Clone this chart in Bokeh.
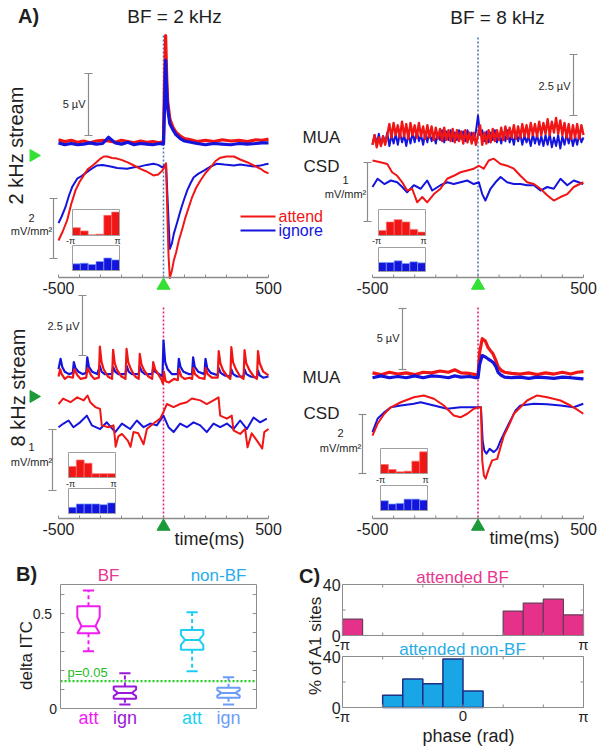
import math
from bokeh.plotting import figure
from bokeh.models import Range1d
from bokeh.embed import file_html
from bokeh.resources import INLINE
from bokeh.core.properties import value

PI = math.pi

# ======================= DATA =======================
# ---- Panel A: time axis (ms) ----
TIME_TICKS = [-500, -400, -300, -200, -100, 0, 100, 200, 300, 400, 500]
TIME_TICK_LABELS = ["-500", "500"]

# ---- A, BF = 2 kHz / 2 kHz stream (top-left) ----
TL_MUA_T = [-500, -470, -440, -410, -380, -350, -320, -290, -262, -230, -200, -170, -140, -110, -80, -50, -20, 0, 5, 10,
            15, 20, 30, 45, 60, 80, 100, 130, 160, 200, 240, 280, 320, 360, 400, 440, 470, 500]
TL_MUA_ATT = [0.3, 0.15, 0.25, 0.1, 0.2, 0.05, 0.2, 0.25, 0.2, 0.1, 0.25, 0.15, 0.05, 0.2, 0.1, 0.15, 0.05, 0.15, 5.0, 8.7,
              5.5, 3.4, 2.0, 1.3, 0.9, 0.6, 0.4, 0.3, 0.15, 0.25, 0.15, 0.3, 0.2, 0.25, 0.15, 0.3, 0.25, 0.35]
TL_MUA_IGN = [0.05, -0.1, 0.0, -0.1, -0.05, 0.05, -0.05, 0.0, 0.5, 0.05, -0.05, 0.1, -0.1, 0.0, -0.05, -0.1, 0.0, -0.05, 3.0, 6.7,
              4.3, 2.8, 1.6, 1.1, 0.7, 0.4, 0.2, 0.1, 0.0, -0.1, 0.0, -0.05, -0.1, 0.0, -0.05, 0.0, 0.05, 0.05]
TL_CSD_T_ATT = [-500, -480, -459, -440, -419, -400, -380, -360, -337, -318, -300, -284, -268, -245, -221, -197, -173, -140, -110, -80,
                -48, -25, -6, 5, 12, 18, 24, 30, 40, 49, 60, 73, 90, 105, 120, 136, 155, 176, 200, 224,
                248, 271, 300, 335, 365, 398, 430, 462, 480, 500]
TL_CSD_ATT = [-2.5, -2.2, -1.83, -1.3, -0.83, -0.55, -0.33, -0.12, 0.0, 0.12, 0.23, 0.3, 0.3, 0.25, 0.23, 0.18, 0.11, 0.0, -0.11, -0.2,
              -0.33, -0.3, -0.17, -0.05, 0.07, -1.5, -3.0, -3.75, -3.5, -3.17, -2.9, -2.5, -2.1, -1.72, -1.4, -1.06, -0.75, -0.5, -0.25, -0.06,
              0.15, 0.26, 0.3, 0.3, 0.2, 0.11, 0.0, -0.11, -0.2, -0.26]
TL_CSD_T_IGN = [-500, -485, -467, -450, -435, -411, -390, -365, -340, -317, -290, -252, -220, -173, -140, -110, -80, -48, -25, -6,
                5, 12, 20, 30, 40, 49, 65, 81, 97, 113, 128, 144, 165, 192, 220, 255, 290, 335, 365, 398, 430, 462, 480, 500]
TL_CSD_IGN = [-1.92, -1.7, -1.39, -1.0, -0.72, -0.44, -0.35, -0.22, -0.1, 0.0, 0.02, -0.03, -0.08, -0.11, -0.06, -0.03, 0.02, 0.06, 0.02, -0.06,
              0.0, 0.06, -1.2, -2.78, -2.6, -2.28, -1.9, -1.5, -1.15, -0.83, -0.6, -0.39, -0.28, -0.17, -0.05, 0.06, 0.03, 0.0, 0.03, 0.0,
              -0.03, 0.0, 0.03, 0.06]
TL_HIST_ATT = [12.0, 7.0, 1.0, 2.0, 31.0, 36.0]
TL_HIST_IGN = [10.7, 11.7, 9.6, 14.4, 20.0, 17.0]

# ---- A, BF = 8 kHz / 2 kHz stream (top-right) ----
TR_MUA_T = list(range(-500, 501, 10))
TR_MUA_ATT = [-0.3, 0.1, -0.4, 0.0, -0.35, 0.05, -0.3, 0.1, 0.55, 0.0,
              0.6, 0.1, 0.5, 0.0, 0.65, 0.05, 0.55, -0.05, 0.6, 0.1,
              0.5, 0.0, 0.6, 0.05, 0.45, -0.05, 0.5, 0.0, 0.45, -0.1,
              0.4, -0.05, 0.35, -0.15, 0.4, -0.1, 0.3, -0.15, 0.35, -0.2,
              0.3, -0.15, 0.25, -0.25, 0.3, -0.2, 0.2, -0.25, 0.2, -0.3,
              0.1, 0.5, -0.3, 0.2, -0.25, 0.3, -0.2, 0.35, -0.15, 0.3,
              -0.1, 0.4, -0.1, 0.45, -0.05, 0.4, 0.0, 0.5, -0.05, 0.45,
              0.0, 0.55, 0.05, 0.5, 0.0, 0.6, 0.1, 0.55, 0.05, 0.65,
              0.1, 0.6, 0.15, 0.75, 0.1, 0.65, 0.2, 0.8, 0.15, 0.7,
              0.1, 0.6, 0.0, 0.55, -0.05, 0.5, 0.0, 0.55, -0.05, 0.5,
              0.1]
TR_MUA_IGN = [-0.3, 0.1, -0.25, 0.15, -0.3, 0.05, -0.2, 0.2, -0.35, 0.1,
              -0.25, 0.15, -0.3, 0.2, -0.2, 0.1, -0.35, 0.15, -0.25, 0.2,
              -0.2, 0.25, -0.15, 0.1, -0.3, 0.2, -0.2, 0.25, -0.15, 0.1,
              -0.25, 0.2, -0.1, 0.3, -0.2, 0.25, -0.1, 0.3, -0.15, 0.2,
              -0.1, 0.3, -0.05, 0.25, -0.15, 0.3, -0.05, 0.2, -0.1, 0.25,
              0.9, 0.1, 0.3, -0.15, 0.25, -0.2, 0.2, -0.1, 0.3, -0.2,
              0.15, -0.25, 0.2, -0.15, 0.3, -0.2, 0.1, -0.3, 0.2, -0.15,
              0.15, -0.3, 0.1, -0.2, 0.05, -0.35, 0.15, -0.25, 0.1, -0.3,
              0.05, -0.35, 0.1, -0.3, 0.15, -0.4, 0.0, -0.35, 0.1, -0.45,
              0.05, -0.3, 0.15, -0.25, 0.1, -0.35, 0.05, -0.3, 0.15, -0.2,
              0.0]
TR_CSD_T_ATT = [-500, -462, -430, -407, -383, -359, -336, -312, -288, -264, -241, -209, -178, -146, -115, -83, -51, -20, 4, 27,
                51, 75, 107, 138, 170, 201, 233, 265, 296, 328, 359, 391, 423, 454, 499]
TR_CSD_ATT = [0.34, 0.31, 0.28, 0.14, 0.08, -0.03, -0.17, -0.14, -0.37, -0.28, -0.37, -0.23, -0.14, 0.03, 0.08, 0.14, 0.17, 0.2, 0.25, 0.2,
              0.34, 0.37, 0.28, 0.25, 0.2, 0.08, -0.03, -0.06, -0.14, -0.25, -0.34, -0.28, -0.23, -0.11, -0.03]
TR_CSD_T_IGN = [-500, -476, -444, -413, -383, -359, -336, -304, -272, -241, -217, -178, -146, -115, -83, -51, -20, 4, 20, 35,
                59, 83, 107, 138, 170, 201, 233, 265, 296, 328, 359, 391, 423, 454, 499]
TR_CSD_IGN = [-0.11, 0.03, -0.06, 0.0, -0.03, -0.11, -0.2, -0.08, -0.14, 0.0, -0.17, -0.08, -0.03, -0.06, -0.03, 0.0, -0.06, -0.03, -0.23, -0.34,
              -0.14, -0.03, 0.06, -0.03, -0.06, -0.06, -0.08, -0.08, -0.17, -0.11, -0.14, 0.03, -0.08, 0.0, -0.06]
TR_HIST_ATT = [7.8, 20.8, 24.4, 20.8, 9.4, 5.2]
TR_HIST_IGN = [15.0, 15.0, 17.8, 13.3, 16.1, 14.4]

# ---- A, BF = 2 kHz / 8 kHz stream (bottom-left) ----
BL_MUA_T_ATT = [-500, -492, -485, -470, -455, -432, -425, -410, -395, -368, -362, -345, -330, -308, -303, -295, -285, -265, -245, -240,
                -232, -220, -200, -181, -176, -168, -155, -135, -118, -113, -105, -92, -72, -54, -49, -40, -25, -8, -3, 2,
                10, 25, 50, 68, 74, 85, 100, 125, 136, 142, 150, 170, 195, 201, 210, 230, 258, 263, 271, 284,
                305, 318, 323, 331, 345, 365, 381, 386, 394, 410, 430, 445, 450, 458, 475, 500]
BL_MUA_ATT = [0.0, 0.3, 0.1, -0.1, 0.0, -0.05, 0.3, 0.05, -0.1, -0.05, 0.35, 0.05, -0.1, -0.05, 1.25, 0.6, 0.3, 0.0, -0.1, 1.11,
              0.55, 0.25, 0.0, -0.1, 1.15, 0.6, 0.3, 0.0, -0.1, 0.94, 0.5, 0.25, 0.0, -0.1, 0.6, 0.3, 0.1, -0.15, -0.3, 0.2,
              -0.2, -0.25, -0.1, -0.15, 0.3, 0.0, -0.1, -0.05, -0.1, 0.35, 0.1, -0.05, -0.1, 0.35, 0.1, -0.05, -0.05, 1.06, 0.55, 0.25,
              0.0, -0.1, 1.22, 0.6, 0.3, 0.0, -0.1, 1.1, 0.55, 0.25, 0.0, -0.1, 1.06, 0.55, 0.2, 0.05]
BL_MUA_T_IGN = [-500, -490, -482, -470, -450, -432, -427, -419, -405, -385, -368, -363, -355, -340, -315, -303, -295, -280, -245, -240,
                -230, -215, -181, -176, -166, -150, -118, -113, -103, -88, -54, -49, -40, -20, -5, 0, 8, 20, 40, 68,
                73, 81, 95, 120, 136, 141, 149, 165, 195, 200, 208, 225, 258, 263, 272, 290, 318, 323, 332, 350,
                381, 386, 395, 415, 445, 450, 458, 475, 500]
BL_MUA_IGN = [0.3, 0.74, 0.4, 0.2, 0.1, 0.15, 0.6, 0.35, 0.2, 0.1, 0.15, 0.8, 0.4, 0.2, 0.1, 0.45, 0.2, 0.1, 0.1, 0.4,
              0.2, 0.1, 0.1, 0.45, 0.2, 0.1, 0.1, 0.4, 0.2, 0.1, 0.1, 0.35, 0.2, 0.1, 0.0, 1.5, 0.6, 0.3, 0.1, 0.1,
              0.74, 0.4, 0.2, 0.1, 0.1, 0.8, 0.4, 0.2, 0.1, 0.74, 0.35, 0.15, 0.05, 0.35, 0.15, 0.05, 0.0, 0.3, 0.1, 0.0,
              0.0, 0.3, 0.1, 0.0, -0.05, 0.25, 0.05, -0.05, 0.0]
BL_CSD_T_ATT = [-500, -478, -443, -411, -380, -362, -349, -325, -302, -294, -262, -238, -230, -228, -215, -198, -170, -157, -143, -120,
                -95, -79, -48, -16, 0, 16, 48, 79, 111, 135, 175, 206, 238, 262, 270, 302, 325, 333, 365, 389,
                400, 420, 445, 470, 480, 500]
BL_CSD_ATT = [0.27, 0.36, 0.3, 0.38, 0.33, 0.41, 0.3, 0.22, 0.19, -0.08, -0.11, -0.08, -0.33, -0.43, -0.26, -0.22, -0.33, -0.43, -0.19, -0.21,
              -0.39, -0.14, -0.05, 0.03, 0.14, 0.27, 0.22, 0.27, 0.3, 0.36, 0.33, 0.27, 0.33, 0.38, 0.08, 0.03, 0.08, -0.16, -0.22, -0.14,
              -0.44, -0.21, -0.33, -0.46, -0.19, -0.14]
BL_CSD_T_IGN = [-500, -476, -452, -429, -397, -365, -341, -302, -270, -230, -198, -159, -127, -95, -63, -32, 0, 24, 48, 79,
                111, 143, 175, 206, 238, 270, 302, 333, 365, 397, 429, 460, 492]
BL_CSD_IGN = [-0.11, -0.05, 0.0, -0.11, -0.03, 0.08, -0.08, -0.14, -0.03, -0.19, -0.05, -0.14, 0.0, -0.11, -0.05, -0.08, 0.08, -0.11, -0.19, -0.05,
              -0.11, -0.03, -0.08, -0.19, -0.05, -0.11, -0.05, -0.14, 0.0, -0.14, 0.05, -0.03, 0.03]
BL_HIST_ATT = [17.7, 28.0, 22.9, 6.2, 6.2, 6.2]
BL_HIST_IGN = [9.9, 15.3, 15.3, 15.3, 14.2, 17.0]

# ---- A, BF = 8 kHz / 8 kHz stream (bottom-right) ----
BR_MUA_T = [-500, -460, -420, -380, -340, -300, -260, -220, -180, -140, -110, -80, -40, -10, 0, 8, 20, 35, 47, 60,
            71, 85, 95, 110, 126, 160, 200, 240, 280, 320, 360, 400, 440, 470, 500]
BR_MUA_ATT = [0.3, 0.15, 0.35, 0.2, 0.3, 0.15, 0.35, 0.3, 0.45, 0.35, 0.55, 0.3, 0.25, 0.15, 0.1, 2.0, 3.1, 2.9, 2.4, 2.1,
              1.86, 1.3, 0.8, 0.5, 0.35, 0.25, 0.2, 0.3, 0.15, 0.3, 0.2, 0.35, 0.2, 0.35, 0.4]
BR_MUA_IGN = [-0.1, 0.05, -0.1, 0.0, -0.1, 0.05, -0.1, 0.05, 0.0, -0.1, 0.05, -0.05, 0.0, -0.1, -0.1, 1.0, 1.72, 1.6, 1.45, 1.3,
              1.17, 0.8, 0.35, 0.1, -0.05, -0.1, -0.05, -0.15, -0.05, -0.1, -0.15, -0.05, -0.1, -0.15, -0.2]
BR_CSD_T_ATT = [-500, -476, -444, -413, -366, -304, -257, -209, -162, -115, -83, -51, -20, 8, 14, 20, 28, 36, 51, 67,
                91, 107, 123, 146, 170, 201, 233, 280, 328, 391, 438, 470, 499]
BR_CSD_ATT = [-1.02, -0.62, -0.28, -0.06, 0.11, 0.28, 0.34, 0.23, 0.0, -0.34, -0.4, -0.28, -0.11, -0.06, -0.06, -1.86, -2.37, -2.48, -2.15, -1.86,
              -1.81, -1.41, -1.02, -0.68, -0.28, -0.06, 0.17, 0.34, 0.28, 0.17, 0.0, -0.14, -0.28]
BR_CSD_T_IGN = [-500, -476, -444, -413, -366, -304, -272, -209, -146, -83, -20, 8, 14, 22, 30, 40, 55, 75, 91, 107,
                123, 146, 178, 201, 265, 328, 391, 454, 499]
BR_CSD_IGN = [-0.9, -0.45, -0.23, -0.06, 0.0, 0.06, 0.11, 0.0, -0.11, -0.06, -0.06, -0.06, -0.06, -1.19, -1.53, -1.63, -1.47, -1.58, -1.47, -1.19,
              -0.96, -0.62, -0.17, 0.0, 0.06, 0.04, 0.0, -0.06, 0.06]
BR_HIST_ATT = [14.4, 6.4, 2.7, 3.7, 19.7, 34.7]
BR_HIST_IGN = [15.6, 10.4, 11.4, 18.2, 18.2, 16.6]

# ---- Panel B: delta ITC box plots ----
B_LABELS = ["att", "ign", "att", "ign"]
B_POS = [1.0, 2.3, 4.7, 6.0]
B_WHISK_HI = [0.621, 0.186, 0.507, 0.165]
B_Q3 = [0.539, 0.116, 0.414, 0.109]
B_NOTCH_HI = [0.481, 0.100, 0.388, 0.097]
B_MEDIAN = [0.433, 0.082, 0.361, 0.082]
B_NOTCH_LO = [0.396, 0.065, 0.335, 0.068]
B_Q1 = [0.396, 0.051, 0.309, 0.056]
B_WHISK_LO = [0.302, 0.021, 0.196, 0.021]
B_P005 = 0.144
B_YTICKS = [0.0, 0.5]
B_YTICK_LABELS = ["0", "0.5"]

# ---- Panel C: phase histograms (% of A1 sites), 12 bins from -pi to pi ----
C_ATT_BF = [12.8, 0, 0, 0, 0, 0, 0, 0, 19.1, 25.4, 28.5, 16.2]
C_ATT_NONBF = [0, 0, 9.7, 22.3, 18.7, 38.0, 13.0, 0, 0, 0, 0, 0]
C_YTICKS = [0, 40]

# ======================= STYLE =======================
FONT = value("Liberation Sans")
RED = "#f01616"
BLUE = "#1414dc"
GRAY = "#8c8c8c"
INK = "#1e1e1e"
STIM_BLUE = "#5078bd"
STIM_PINK = "#e8207c"
LIGHT_GREEN = "#33e033"
DARK_GREEN = "#1c9a3a"

p = figure(width=602, height=750, x_range=Range1d(0, 602), y_range=Range1d(750, 0),
           x_axis_location=None, y_axis_location=None, toolbar_location=None,
           output_backend="svg", min_border=0)
p.grid.visible = False
p.outline_line_color = None
p.background_fill_color = "white"
p.border_fill_color = "white"


def T(x, y, s, size, color=INK, align="center", base="middle", angle=0.0, bold=False, api=None):
    (api or p).text(x=[x], y=[y], text=[s], text_font=FONT, text_font_size=f"{size}px",
                    text_color=color, text_align=align, text_baseline=base, angle=angle,
                    text_font_style="bold" if bold else "normal")


def sub(xs, ys, xt, yt):
    return p.subplot(x_source=Range1d(*xs), y_source=Range1d(*ys),
                     x_target=Range1d(*xt), y_target=Range1d(*yt))


def scalebar(x, ybot, length_px, label_lines, lx, ly):
    p.segment(x0=[x], y0=[ybot], x1=[x], y1=[ybot - length_px], line_color=GRAY, line_width=1.2)
    p.segment(x0=[x - 4, x - 4], y0=[ybot, ybot - length_px], x1=[x + 4, x + 4], y1=[ybot, ybot - length_px],
              line_color=GRAY, line_width=1.2)
    for i, (s, align) in enumerate(label_lines):
        T(lx, ly[i], s, 11, align=align)


def inset(box, vals, fill, edge):
    xa, xb, yb, yt = box
    s = sub((-PI, PI), (0, 40), (xa, xb), (yb, yt))
    n = len(vals)
    edges = [-PI + 2 * PI * i / n for i in range(n + 1)]
    s.quad(left=edges[:-1], right=edges[1:], bottom=[0] * n, top=vals,
           fill_color=fill, line_color=edge, line_width=0.7)
    p.quad(left=[xa], right=[xb], bottom=[yb], top=[yt], fill_color=None, line_color="#a0a0a0", line_width=1)


def panel_a(xt, mua, csd, mua_lines, csd_lines, axis_y, stim_top, stim_color, tri_color,
            red_box, blue_box, hist_att, hist_ign):
    sa = sub((-500, 500), (0, 1), xt, (0, 1))
    # stimulus onset dotted line
    sa.segment(x0=[0], y0=[stim_top], x1=[0], y1=[axis_y], line_color=stim_color,
               line_width=1.6, line_dash="2 2")
    sm = sub((-500, 500), (0, 1), xt, (mua[0], mua[0] - mua[1]))
    for t, v, c, w in mua_lines:
        sm.line(t, v, line_color=c, line_width=w, line_join="round")
    sc = sub((-500, 500), (0, 1), xt, (csd[0], csd[0] - csd[1]))
    for t, v, c, w in csd_lines:
        sc.line(t, v, line_color=c, line_width=w, line_join="round")
    # time axis
    sa.segment(x0=[-500], y0=[axis_y], x1=[500], y1=[axis_y], line_color=GRAY, line_width=1.3)
    sa.segment(x0=TIME_TICKS, y0=[axis_y] * len(TIME_TICKS), x1=TIME_TICKS, y1=[axis_y - 3] * len(TIME_TICKS),
               line_color=GRAY, line_width=1)
    sa.text(x=[-500, 500], y=[axis_y + 10, axis_y + 10], text=TIME_TICK_LABELS, text_font=FONT,
            text_font_size="16px", text_color=INK, text_align="center", text_baseline="middle")
    sa.scatter(x=[0], y=[axis_y + 8], marker="triangle", size=13, fill_color=tri_color, line_color=tri_color)
    inset(red_box, hist_att, RED, "#ff7070")
    inset(blue_box, hist_ign, BLUE, "#7aa0ff")


# ---------- Panel A ----------
T(28, 15, "A)", 20, bold=True)
T(174, 16, "BF = 2 kHz", 19)
T(497, 17, "BF = 8 kHz", 19)

# top-left
panel_a((58, 268), (143, 12.4), (165, 30.0),
        [(TL_MUA_T, TL_MUA_ATT, RED, 3.2), (TL_MUA_T, TL_MUA_IGN, BLUE, 3.2)],
        [(TL_CSD_T_IGN, TL_CSD_IGN, BLUE, 2.0), (TL_CSD_T_ATT, TL_CSD_ATT, RED, 2.0)],
        277, 35, STIM_BLUE, LIGHT_GREEN,
        (72, 119, 235, 209), (72, 119, 270, 245), TL_HIST_ATT, TL_HIST_IGN)
scalebar(88, 135, 5 * 12.4, [("5 µV", "right")], 85, [103])
scalebar(53, 258, 2 * 30.0, [("2", "center"), ("mV/mm²", "center")], 31, [217, 230])
T(70, 240, "-π", 9)
T(117, 240, "π", 9)
p.segment(x0=[240], y0=[216], x1=[275], y1=[216], line_color=RED, line_width=2)
p.segment(x0=[240], y0=[230], x1=[275], y1=[230], line_color=BLUE, line_width=2)
T(278, 216, "attend", 16, color=RED, align="left")
T(278, 230, "ignore", 16, color=BLUE, align="left")
T(15, 145, "2 kHz stream", 20, angle=PI / 2)
p.scatter(x=[33], y=[155], marker="triangle", angle=-PI / 2, size=12, fill_color=LIGHT_GREEN, line_color=LIGHT_GREEN)

# top-right
panel_a((372, 583), (137, 24.4), (180, 59.0),
        [(TR_MUA_T, TR_MUA_IGN, BLUE, 2.0), (TR_MUA_T, TR_MUA_ATT, RED, 2.4)],
        [(TR_CSD_T_IGN, TR_CSD_IGN, BLUE, 2.0), (TR_CSD_T_ATT, TR_CSD_ATT, RED, 2.0)],
        277, 37, STIM_BLUE, LIGHT_GREEN,
        (378, 425, 235, 209), (378, 425, 271, 247), TR_HIST_ATT, TR_HIST_IGN)
scalebar(573, 115, 2.5 * 24.4, [("2.5 µV", "right")], 570, [85])
scalebar(367, 221, 1 * 59.0, [("1", "center"), ("mV/mm²", "center")], 345, [179, 193])
T(376, 240, "-π", 9)
T(423, 240, "π", 9)
T(321, 137, "MUA", 17)
T(321, 166, "CSD", 17)

# bottom-left
panel_a((58, 268), (376, 24.0), (420, 61.0),
        [(BL_MUA_T_IGN, BL_MUA_IGN, BLUE, 2.2), (BL_MUA_T_ATT, BL_MUA_ATT, RED, 2.2)],
        [(BL_CSD_T_IGN, BL_CSD_IGN, BLUE, 2.0), (BL_CSD_T_ATT, BL_CSD_ATT, RED, 2.0)],
        518, 307, STIM_PINK, DARK_GREEN,
        (68, 115, 477, 452), (68, 115, 513, 488), BL_HIST_ATT, BL_HIST_IGN)
scalebar(82, 355, 2.5 * 24.0, [("2.5 µV", "right")], 79, [325])
scalebar(52, 490, 1 * 61.0, [("1", "center"), ("mV/mm²", "center")], 31, [446, 461])
T(70, 483, "-π", 9)
T(113, 483, "π", 9)
T(209, 538, "time(ms)", 18)
T(17, 387, "8 kHz stream", 20, angle=PI / 2)
p.scatter(x=[33], y=[396], marker="triangle", angle=-PI / 2, size=12, fill_color=DARK_GREEN, line_color=DARK_GREEN)

# bottom-right
panel_a((372, 583), (376, 12.2), (405, 29.5),
        [(BR_MUA_T, BR_MUA_ATT, RED, 3.2), (BR_MUA_T, BR_MUA_IGN, BLUE, 3.2)],
        [(BR_CSD_T_IGN, BR_CSD_IGN, BLUE, 2.0), (BR_CSD_T_ATT, BR_CSD_ATT, RED, 2.0)],
        518, 307, STIM_PINK, DARK_GREEN,
        (380, 427, 473, 448), (380, 427, 510, 485), BR_HIST_ATT, BR_HIST_IGN)
scalebar(402, 369, 5 * 12.2, [("5 µV", "right")], 399, [337])
scalebar(362, 473, 2 * 29.5, [("2", "center"), ("mV/mm²", "center")], 340, [432, 447])
T(380, 479, "-π", 9)
T(425, 479, "π", 9)
T(321, 377, "MUA", 17)
T(321, 413, "CSD", 17)
T(524, 537, "time(ms)", 18)

# ---------- Panel B ----------
T(26, 573, "B)", 20, bold=True)
T(108, 575, "BF", 17, color="#e8358f")
T(218, 575, "non-BF", 17, color="#27acea")
B_COLORS = ["#f01cf0", "#9a18d8", "#1ccff2", "#6c9cf6"]
sb = sub((0, 7), (0, 0.653), (60, 256), (708, 584))
sb.segment(x0=[0], y0=[B_P005], x1=[7], y1=[B_P005], line_color="#22cc22", line_width=2.2, line_dash="2 2")
HW, NW, CW = 0.4, 0.25, 0.2
for i in range(4):
    x = B_POS[i]
    c = B_COLORS[i]
    xs = [x - HW, x + HW, x + HW, x + NW, x + HW, x + HW, x - HW, x - HW, x - NW, x - HW]
    ys = [B_Q3[i], B_Q3[i], B_NOTCH_HI[i], B_MEDIAN[i], B_NOTCH_LO[i], B_Q1[i], B_Q1[i],
          B_NOTCH_LO[i], B_MEDIAN[i], B_NOTCH_HI[i]]
    sb.patch(xs + [xs[0]], ys + [ys[0]], fill_color=None, line_color=c, line_width=2)
    sb.segment(x0=[x - NW], y0=[B_MEDIAN[i]], x1=[x + NW], y1=[B_MEDIAN[i]], line_color=c, line_width=2)
    sb.segment(x0=[x, x], y0=[B_Q3[i], B_Q1[i]], x1=[x, x], y1=[B_WHISK_HI[i], B_WHISK_LO[i]],
               line_color=c, line_width=2, line_dash="4 3")
    sb.segment(x0=[x - CW, x - CW], y0=[B_WHISK_HI[i], B_WHISK_LO[i]], x1=[x + CW, x + CW],
               y1=[B_WHISK_HI[i], B_WHISK_LO[i]], line_color=c, line_width=2)
    T(x, -0.05, B_LABELS[i], 18, color=c, api=sb)
minor = [0.1, 0.2, 0.3, 0.4, 0.5, 0.6]
sb.segment(x0=[6.86] * 6, y0=minor, x1=[7] * 6, y1=minor, line_color=GRAY, line_width=1)
sb.segment(x0=[0] * 6, y0=minor, x1=[0.14] * 6, y1=minor, line_color=GRAY, line_width=1)
sb.text(x=[-0.12, -0.3], y=B_YTICKS, text=B_YTICK_LABELS, text_font=FONT, text_font_size="14px",
        text_color=INK, text_align="right", text_baseline="middle")
p.quad(left=[60], right=[256], top=[584], bottom=[708], fill_color=None, line_color=GRAY, line_width=1)
T(67, 672, "p=0.05", 13, color="#22bb22", align="left")
T(26, 655, "delta ITC", 17, angle=PI / 2)

# ---------- Panel C ----------
T(309, 575, "C)", 20, bold=True)
nb = len(C_ATT_BF)
C_EDGES = [-PI + 2 * PI * i / nb for i in range(nb + 1)]
PHASE_TICKS = [-PI + PI / 3 * i for i in range(7)]
for vals, yt, fill, edge, title, tcol, xlabels in [
        (C_ATT_BF, (635, 584), "#e6318a", "#6a3a5a", "attended BF", "#e8358f", ["-π", "π"]),
        (C_ATT_NONBF, (707, 656), "#18a6e6", "#1c2f86", "attended non-BF", "#27acea", ["-π", "0", "π"])]:
    sc = sub((-PI, PI), (0, 40), (342, 583), yt)
    if title == "attended BF":
        sc.quad(left=C_EDGES[:-1], right=C_EDGES[1:], bottom=[0] * nb, top=vals,
                fill_color=fill, line_color=edge, line_width=1.2)
    else:
        keep = [i for i in range(nb) if vals[i] > 0]
        sc.quad(left=[C_EDGES[i] for i in keep], right=[C_EDGES[i + 1] for i in keep], bottom=[0] * len(keep),
                top=[vals[i] for i in keep], fill_color=fill, line_color=edge, line_width=1.5)
    # ticks
    sc.segment(x0=PHASE_TICKS, y0=[0] * 7, x1=PHASE_TICKS, y1=[2.4] * 7, line_color=GRAY, line_width=1)
    sc.segment(x0=PHASE_TICKS, y0=[40] * 7, x1=PHASE_TICKS, y1=[37.6] * 7, line_color=GRAY, line_width=1)
    sc.segment(x0=[-PI, PI - 0.08], y0=[20, 20], x1=[-PI + 0.08, PI], y1=[20, 20], line_color=GRAY, line_width=1)
    sc.text(x=[-PI - 0.05, -PI - 0.05], y=C_YTICKS, text=[str(v) for v in C_YTICKS], text_font=FONT,
            text_font_size="16px", text_color=INK, text_align="right", text_baseline="middle")
    xl = [-PI, PI] if len(xlabels) == 2 else [-PI, 0, PI]
    sc.text(x=xl, y=[-7] * len(xl), text=xlabels, text_font=FONT, text_font_size="15px",
            text_color=INK, text_align="center", text_baseline="middle")
    p.quad(left=[342], right=[583], bottom=[yt[0]], top=[yt[1]], fill_color=None, line_color=GRAY, line_width=1)
    T(462, yt[1] - 7, title, 17, color=tcol)
T(468, 735, "phase (rad)", 18)
T(315, 645, "% of A1 sites", 17, angle=PI / 2)

open("out.html", "w").write(file_html(p, INLINE))
